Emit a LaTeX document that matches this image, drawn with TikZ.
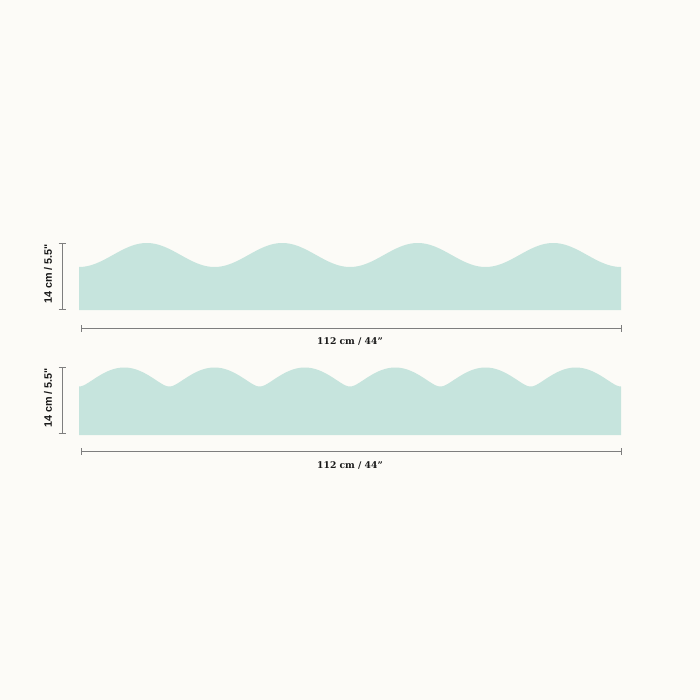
\documentclass[tikz,border=0pt]{standalone}
\usepackage{fontspec}
\setmainfont{DejaVu Serif}
\newfontfamily\dimsans{Liberation Sans}
\definecolor{bgcol}{HTML}{FCFBF7}
\definecolor{stripcol}{HTML}{C6E4DD}
\definecolor{dimcol}{HTML}{7E7E7E}
\begin{document}
\begin{tikzpicture}[x=1pt,y=-1pt,
  strip/.style={fill=stripcol},
  dimline/.style={draw=dimcol, line width=0.8pt},
  hlabel/.style={font=\fontsize{9.2}{11}\selectfont\bfseries, inner sep=0pt, text=black!90},
  vlabel/.style={font=\dimsans\fontsize{10.8}{12}\selectfont\bfseries, inner sep=0pt, rotate=90, text=black!90}]
\fill[bgcol] (0,0) rectangle (700,700);
\useasboundingbox (0,0) rectangle (700,700);
% top strip
\fill[strip] (79,310) -- plot[domain=79:621,samples=300] (\x,{255+12*cos((\x-79)/135.5*360)}) -- (621,310) -- cycle;
% bottom strip
\fill[strip] (79,435) -- plot[domain=79:621,samples=700] (\x,{386.5-19*(sqrt((sin((\x-79)/90.3333*180))^2+0.0625)-0.25)/(sqrt(1.0625)-0.25)}) -- (621,435) -- cycle;
% top dimensions
\coordinate (va1) at (62,243);
\coordinate (vb1) at (62,309.5);
\draw[dimline] (va1) -- (vb1);
\draw[dimline] (va1) ++(-3.5,0) -- ++(7,0);
\draw[dimline] (vb1) ++(-3.5,0) -- ++(7,0);
\node[vlabel] (vl1) at (48,274) {14 cm / 5.5"};
\coordinate (ha1) at (81,328.5);
\coordinate (hb1) at (621,328.5);
\draw[dimline] (ha1) -- (hb1);
\draw[dimline] (ha1) ++(0,-3.5) -- ++(0,7);
\draw[dimline] (hb1) ++(0,-3.5) -- ++(0,7);
\node[hlabel] (hl1) at (350,342) {112 cm / 44”};
% bottom dimensions
\coordinate (va2) at (62,367);
\coordinate (vb2) at (62,433);
\draw[dimline] (va2) -- (vb2);
\draw[dimline] (va2) ++(-3.5,0) -- ++(7,0);
\draw[dimline] (vb2) ++(-3.5,0) -- ++(7,0);
\node[vlabel] (vl2) at (48,398) {14 cm / 5.5"};
\coordinate (ha2) at (81,451.5);
\coordinate (hb2) at (621,451.5);
\draw[dimline] (ha2) -- (hb2);
\draw[dimline] (ha2) ++(0,-3.5) -- ++(0,7);
\draw[dimline] (hb2) ++(0,-3.5) -- ++(0,7);
\node[hlabel] (hl2) at (350,465.5) {112 cm / 44”};
\end{tikzpicture}
\end{document}
